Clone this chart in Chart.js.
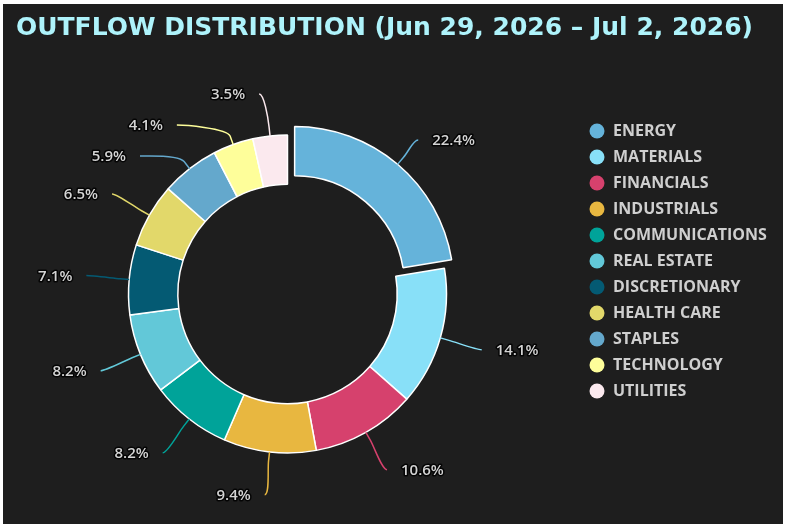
<!DOCTYPE html>
<html>
<head>
<meta charset="utf-8">
<script src="https://cdn.jsdelivr.net/npm/chart.js@4.4.1/dist/chart.umd.min.js"></script>
<style>
  html, body { margin: 0; padding: 0; background: #ffffff; }
  #wrap { position: absolute; left: 3px; top: 4px; width: 780px; height: 520px; background: #1e1e1e; }
</style>
</head>
<body>
<div id="wrap"><canvas id="outflow"></canvas></div>
<script>
const chartTitle = 'OUTFLOW DISTRIBUTION (Jun 29, 2026 \u2013 Jul 2, 2026)';
const sectors = ['ENERGY', 'MATERIALS', 'FINANCIALS', 'INDUSTRIALS', 'COMMUNICATIONS', 'REAL ESTATE',
                 'DISCRETIONARY', 'HEALTH CARE', 'STAPLES', 'TECHNOLOGY', 'UTILITIES'];
const outflowShare = [22.4, 14.1, 10.6, 9.4, 8.2, 8.2, 7.1, 6.5, 5.9, 4.1, 3.5];
const sectorColors = ['#65b3da', '#88e0f8', '#d6416d', '#e8b740', '#00a399', '#62c8d8',
                      '#045a73', '#e2d86a', '#64a8cc', '#fefe9a', '#fbe9ee'];
const pulledOut = 'ENERGY';

const uiFont = "'Open Sans', sans-serif";
const pullPx = 11; // how far the pulled-out slice sits from the ring

// percentage callouts outside the ring, with soft connectors
const calloutPlugin = {
  id: 'callouts',
  afterDatasetsDraw(chart) {
    const ctx = chart.ctx;
    const meta = chart.getDatasetMeta(0);
    const ds = chart.data.datasets[0];
    const minGap = 31;
    const topLimit = chart.chartArea.top + 24;

    const items = meta.data.map((arc, i) => {
      const mid = (arc.startAngle + arc.endAngle) / 2;
      const cos = Math.cos(mid), sin = Math.sin(mid);
      // chart.js moves an offset arc by offset / 4
      const r = arc.outerRadius + ds.offset[i] / 4;
      const labelR = arc.outerRadius + 43;
      return {
        i, cx: arc.x, cy: arc.y, labelR,
        right: cos >= 0,
        touch: { x: arc.x + cos * r, y: arc.y + sin * r },
        brk: { x: arc.x + cos * (r + 9), y: arc.y + sin * (r + 9) },
        y: arc.y + sin * labelR
      };
    });

    // push overlapping labels apart on each side
    [true, false].forEach(side => {
      let prev = -Infinity;
      items.filter(it => it.right === side).sort((a, b) => a.y - b.y).forEach(it => {
        it.y = Math.max(it.y, prev + minGap, topLimit);
        prev = it.y;
      });
    });

    ctx.save();
    items.forEach(it => {
      const dy = it.y - it.cy;
      const dx = Math.sqrt(Math.max(it.labelR * it.labelR - dy * dy, 0));
      const ax = it.right ? it.cx + dx : it.cx - dx;
      const ay = it.y;

      ctx.strokeStyle = ds.backgroundColor[it.i];
      ctx.lineWidth = 1.5;
      ctx.beginPath();
      ctx.moveTo(ax, ay);
      ctx.bezierCurveTo(ax + (it.right ? -5 : 5), ay,
                        2 * it.brk.x - it.touch.x, 2 * it.brk.y - it.touch.y,
                        it.brk.x, it.brk.y);
      ctx.lineTo(it.touch.x, it.touch.y);
      ctx.stroke();

      const text = outflowShare[it.i].toFixed(1) + '%';
      const tx = it.right ? ax + 14 : ax - 14;
      ctx.font = `600 15px ${uiFont}`;
      ctx.textAlign = it.right ? 'left' : 'right';
      ctx.textBaseline = 'middle';
      ctx.lineJoin = 'round';
      ctx.lineWidth = 3;
      ctx.strokeStyle = 'rgba(0,0,0,0.85)';
      ctx.strokeText(text, tx, ay + 1);
      ctx.fillStyle = '#d4d4d4';
      ctx.fillText(text, tx, ay + 1);
    });
    ctx.restore();
  }
};

function draw() {
  const ctx = document.getElementById('outflow').getContext('2d');
  new Chart(ctx, {
    type: 'doughnut',
    data: {
      labels: sectors,
      datasets: [{
        data: outflowShare,
        backgroundColor: sectorColors,
        borderColor: '#ffffff',
        borderWidth: 1.5,
        offset: sectors.map(s => s === pulledOut ? pullPx * 4 : 0)
      }]
    },
    options: {
      responsive: true,
      maintainAspectRatio: false,
      animation: false,
      radius: 159,
      cutout: '69%',
      layout: { padding: { left: 13, right: 8, top: 0, bottom: 6 } },
      plugins: {
        title: {
          display: true,
          text: chartTitle,
          align: 'start',
          color: '#aef3fb',
          font: { family: "'DejaVu Sans', sans-serif", size: 25, weight: 'bold' },
          padding: { top: 9, bottom: 27 }
        },
        // empty spacer between the ring and the legend
        subtitle: {
          display: true,
          text: '',
          position: 'right',
          fullSize: false,
          weight: 100,
          font: { size: 10, lineHeight: 1 },
          padding: 5
        },
        legend: {
          position: 'right',
          align: 'center',
          maxWidth: 196,
          labels: {
            usePointStyle: true,
            pointStyle: 'circle',
            boxWidth: 16,
            boxHeight: 10.6,
            padding: 10,
            color: '#cfcfcf',
            font: { family: uiFont, size: 16, weight: 'bold' },
            generateLabels(chart) {
              const items = Chart.overrides.doughnut.plugins.legend.labels.generateLabels(chart);
              items.forEach(it => { it.lineWidth = 0; it.strokeStyle = 'transparent'; });
              return items;
            }
          }
        },
        tooltip: { enabled: false }
      }
    },
    plugins: [calloutPlugin]
  });
}

Promise.all([
  document.fonts.load("bold 25px 'DejaVu Sans'"),
  document.fonts.load("bold 16px 'Open Sans'"),
  document.fonts.load("600 15px 'Open Sans'")
]).then(draw, draw);
</script>
</body>
</html>
